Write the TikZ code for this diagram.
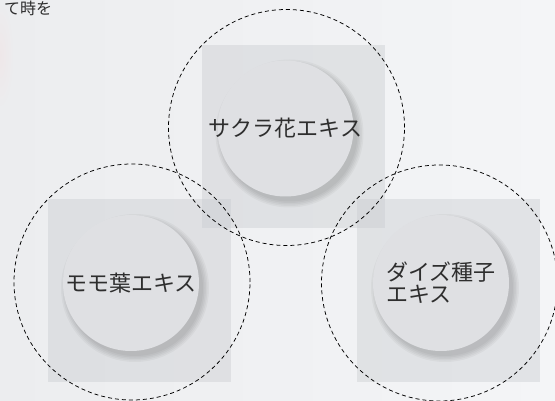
\documentclass[tikz,border=0pt]{standalone}
\usepackage{fontspec}
\newfontfamily\jp{Noto Sans CJK JP}
\definecolor{bgL}{HTML}{ECEDEF}
\definecolor{bgR}{HTML}{F4F5F7}
\definecolor{sq}{HTML}{C9CCD0}
\definecolor{disc}{HTML}{DFE0E3}
\definecolor{txt}{HTML}{2E2E2E}
\tikzset{
  sqbox/.style={rectangle, minimum size=183pt, inner sep=0pt, fill=sq, fill opacity=0.42, draw=none},
  disc/.style={circle, minimum size=136pt, inner sep=0pt, fill=disc, draw=none},
  softshadow/.style={fill=black, fill opacity=0.035},
  ring/.style={circle, minimum size=236pt, inner sep=0pt, draw=black, line width=0.75pt, dash pattern=on 4pt off 3pt},
  lbl/.style={font=\jp\fontsize{22pt}{22pt}\selectfont, text=txt, align=left, inner sep=0pt}
}
\begin{document}
\begin{tikzpicture}[x=1pt,y=-1pt]
\useasboundingbox (0,0) rectangle (555,401);
\shade[left color=bgL, right color=bgR] (0,0) rectangle (555,401);
\shade[inner color=pink!13!bgL, outer color=bgL] (0,55) ellipse [x radius=14, y radius=55];
\node[font=\jp\fontsize{16pt}{16pt}\selectfont, text=txt, anchor=north west, inner sep=0pt] (cap) at (4,1) {て時を};
% squares
\node[sqbox] (sqT) at (293.5,136.5) {};
\node[sqbox] (sqL) at (139.5,290.5) {};
\node[sqbox] (sqR) at (448,290.5) {};
% soft shadows of the discs
\foreach \cx/\cy in {285.5/128.5, 131/283, 441/283}{
  \foreach \r in {68,69.5,71,72.5,74}{
    \fill[softshadow] (\cx+4,\cy+5) circle [radius=\r];
  }
}
% discs
\node[disc] (dT) at (285.5,128.5) {};
\node[disc] (dL) at (131,283) {};
\node[disc] (dR) at (441,283) {};
% dashed rings
\node[ring] (rT) at (286.5,127.5) {};
\node[ring] (rL) at (132,282) {};
\node[ring] (rR) at (439.5,283) {};
% labels
\node[lbl] (tT) at (dT) {サクラ花エキス};
\node[lbl] (tL) at (dL) {モモ葉エキス};
\node[lbl, anchor=west] (tR) at (386,283) {ダイズ種子\\エキス};
\end{tikzpicture}
\end{document}
